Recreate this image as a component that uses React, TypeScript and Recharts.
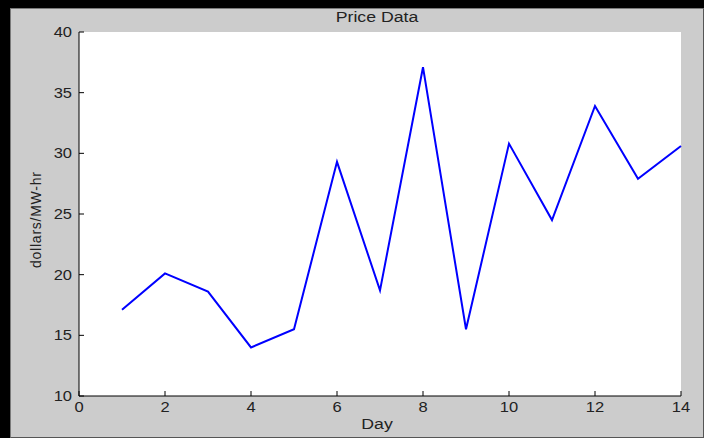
import React from 'react';
import { LineChart, Line, XAxis, YAxis, CartesianGrid } from 'recharts';

const days = [1, 2, 3, 4, 5, 6, 7, 8, 9, 10, 11, 12, 13, 14];
const prices = [17.1, 20.1, 18.6, 14.0, 15.5, 29.3, 18.7, 37.1, 15.5, 30.8, 24.5, 33.9, 27.9, 30.6];
const xTicks = [0, 2, 4, 6, 8, 10, 12, 14];
const yTicks = [10, 15, 20, 25, 30, 35, 40];

const data = days.map((d, i) => ({ day: d, price: prices[i] }));

const FONT = '"Liberation Sans", Arial, sans-serif';
const TEXT = '#222';
const SX = 1.18; // the screenshot's text is a little stretched sideways

// text drawn around an anchor point, widened by SX
const Wide = ({ x, y, anchor, size, children }: any) => (
  <text
    transform={`translate(${x} ${y}) scale(${SX} 1)`}
    textAnchor={anchor}
    fontFamily={FONT}
    fontSize={size}
    fill={TEXT}
  >
    {children}
  </text>
);

const YTick = (props: any) => {
  const { x, y, payload } = props;
  return (
    <g>
      <line x1={x} x2={x + 5} y1={y} y2={y} stroke="#000" />
      <Wide x={x - 7} y={y + 5} anchor="end" size={14}>
        {payload.value}
      </Wide>
    </g>
  );
};

const XTick = (props: any) => {
  const { x, y, payload } = props;
  return (
    <g>
      <line x1={x} x2={x} y1={y} y2={y - 5} stroke="#000" />
      <Wide x={x} y={y + 16} anchor="middle" size={14}>
        {payload.value}
      </Wide>
    </g>
  );
};

export default function App() {
  return (
    <div style={{ position: 'absolute', left: 0, top: 0, width: 704, height: 438, background: '#cccccc', overflow: 'hidden' }}>
      {/* window frame */}
      <div style={{ position: 'absolute', left: 0, top: 0, width: 704, height: 8, background: '#000' }} />
      <div style={{ position: 'absolute', left: 0, top: 0, width: 10, height: 438, background: '#000' }} />
      <div style={{ position: 'absolute', left: 10, top: 8, width: 692, height: 428, border: '1px solid #7a7a7a', borderRightColor: '#555', borderBottomColor: '#555' }} />
      <LineChart
        width={704}
        height={438}
        data={data}
        margin={{ top: 32, right: 23, bottom: 0, left: 0 }}
        style={{ position: 'absolute', left: 0, top: 0 }}
      >
        <CartesianGrid fill="#ffffff" horizontal={false} vertical={false} stroke="none" />
        <XAxis
          dataKey="day"
          type="number"
          domain={[0, 14]}
          ticks={xTicks}
          interval={0}
          height={42}
          tickSize={0}
          tickMargin={0}
          tickLine={false}
          axisLine={{ stroke: '#000' }}
          tick={<XTick />}
          label={{
            content: () => (
              <g>
                <Wide x={377} y={22} anchor="middle" size={15}>
                  Price Data
                </Wide>
                <Wide x={377} y={429} anchor="middle" size={15}>
                  Day
                </Wide>
              </g>
            ),
          }}
        />
        <YAxis
          type="number"
          domain={[10, 40]}
          ticks={yTicks}
          interval={0}
          width={79}
          tickSize={0}
          tickMargin={0}
          tickLine={false}
          axisLine={{ stroke: '#000' }}
          tick={<YTick />}
          label={{
            content: () => (
              <text
                x={41}
                y={220}
                transform="rotate(-90 41 220)"
                textAnchor="middle"
                fontFamily={FONT}
                fontSize={14}
                fill={TEXT}
                textLength={96}
              >
                dollars/MW-hr
              </text>
            ),
          }}
        />
        <Line
          type="linear"
          dataKey="price"
          stroke="#0000ff"
          strokeWidth={2}
          dot={false}
          activeDot={false}
          isAnimationActive={false}
        />
      </LineChart>
    </div>
  );
}
